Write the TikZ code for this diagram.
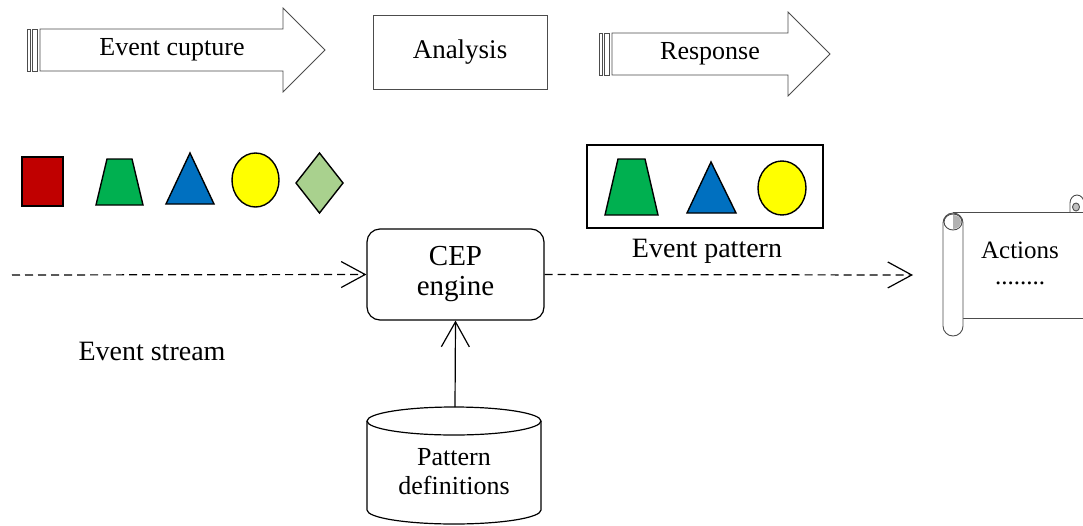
\documentclass[tikz,border=0pt]{standalone}
\usepackage{fontspec}
\setmainfont{Liberation Serif}
\usetikzlibrary{arrows.meta}
\definecolor{sred}{HTML}{C00000}
\definecolor{sgreen}{HTML}{00B050}
\definecolor{sblue}{HTML}{0070C0}
\definecolor{syellow}{HTML}{FFFF00}
\definecolor{slight}{HTML}{A9D18E}
\begin{document}
\begin{tikzpicture}[x=1pt,y=-1pt,
  outline/.style={draw=black!70, line width=0.8pt, fill=white},
  lbl/.style={inner sep=0pt, align=center, font=\fontsize{26}{29}\selectfont},
  shp/.style={draw=black, line width=1.4pt, line join=miter},
  flow/.style={line width=1.2pt, dash pattern=on 8pt off 5pt,
    -{Straight Barb[length=24pt,width=26pt,line width=1.2pt]}},
  feed/.style={line width=1.2pt,
    -{Straight Barb[length=25pt,width=28pt,line width=1.2pt]}}]
\useasboundingbox (0,0) rectangle (1083,525);

% ---- top row: striped block arrows and the analysis box ----
\draw[outline] (27,29) rectangle (30,71);
\draw[outline] (32,29) rectangle (37,71);
\draw[outline] (40,29) -- (283,29) -- (283,8) -- (325,50) -- (283,92)
  -- (283,71) -- (40,71) -- cycle;
\node[lbl] (capture) at (172,50) {Event cupture};

\node[outline, minimum width=174pt, minimum height=74pt,
  font=\fontsize{27}{29}\selectfont] (analysis) at (460,52) {Analysis};

\draw[outline] (599,33) rectangle (602,75);
\draw[outline] (604,33) rectangle (609,75);
\draw[outline] (612,33) -- (788,33) -- (788,12) -- (830,54) -- (788,96)
  -- (788,75) -- (612,75) -- cycle;
\node[lbl] (response) at (710,54) {Response};

% ---- incoming events ----
\draw[shp, fill=sred] (22,157) rectangle (63,206);
\draw[shp, fill=sgreen] (107,159) -- (132,159) -- (143,205) -- (96,205) -- cycle;
\draw[shp, fill=sblue] (190,153) -- (214,204) -- (166,204) -- cycle;
\draw[shp, fill=syellow] (255.5,180) ellipse[x radius=23.5, y radius=27];
\draw[shp, fill=slight] (319.5,153) -- (343,183) -- (319.5,213) -- (296,183) -- cycle;

% ---- matched pattern ----
\draw[draw=black, line width=1.4pt] (587,145) rectangle (823,228);
\draw[shp, fill=sgreen] (618,159) -- (645,159) -- (658,215) -- (605,215) -- cycle;
\draw[shp, fill=sblue] (711,162) -- (736,213) -- (687,213) -- cycle;
\draw[shp, fill=syellow] (782,188) ellipse[x radius=24, y radius=27];
\node[lbl, font=\fontsize{28}{30}\selectfont] (pattern) at (707,251) {Event pattern};

% ---- engine and its connectors ----
\node[draw, rounded corners=13pt, line width=1.2pt, minimum width=177pt,
  minimum height=91pt, align=center, inner sep=0pt,
  font=\fontsize{29}{30}\selectfont] (cep) at (455.5,274.5) {CEP\\engine};

\coordinate (src) at (12,275);
\coordinate (dst) at (913,275);
\draw[flow] (src) -- (cep.west);
\draw[flow] (cep.east) -- (dst);

\node[lbl, font=\fontsize{28}{30}\selectfont] (stream) at (152,351) {Event stream};

% ---- pattern store (cylinder) ----
\draw[line width=1.2pt, fill=white] (367,421) -- (367,510)
  arc[start angle=180, end angle=0, x radius=87, y radius=14]
  -- (541,421);
\draw[line width=1.2pt] (454,421) ellipse[x radius=87, y radius=14];
\coordinate (pdtop) at (455,407);
\node[lbl, font=\fontsize{26}{29}\selectfont] (defs) at (454,472) {Pattern\\definitions};
\draw[feed] (pdtop) -- (cep.south);

% ---- actions scroll ----
\begin{scope}[draw=black!70, line width=0.9pt]
  \draw[fill=white] (953,212) -- (1095,212) -- (1095,318) -- (963,318);
  \draw (1070,212) -- (1070,203)
    arc[start angle=180, end angle=360, x radius=7, y radius=8];
  \filldraw[fill=black!25] (1076,207) ellipse[x radius=3.5, y radius=4];
  \draw[fill=white, rounded corners=10pt] (943,213) rectangle (963,336);
  \draw (953,222) ellipse[x radius=9, y radius=8];
  \fill[black!30] (953,215) arc[start angle=-90, end angle=90, x radius=8, y radius=7] -- cycle;
\end{scope}
\node[lbl, font=\fontsize{25}{28}\selectfont] (actions) at (1020,250) {Actions};
\node[lbl, font=\fontsize{25}{28}\selectfont] (more) at (1020,283) {........};
\end{tikzpicture}
\end{document}
